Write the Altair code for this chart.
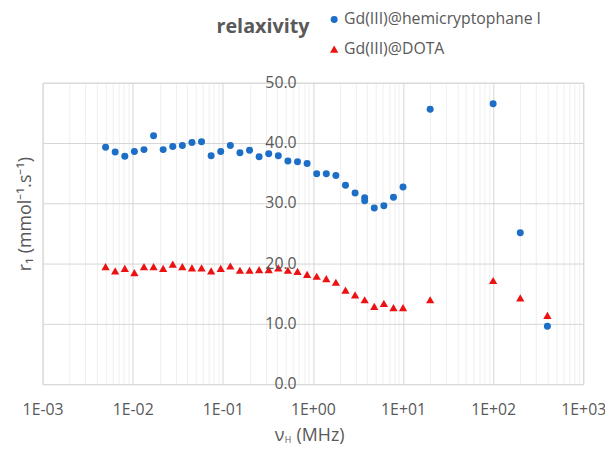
import altair as alt
import pandas as pd

# ---- data ----
freq = [0.005, 0.00639, 0.00817, 0.01044, 0.01334, 0.01704, 0.02178, 0.02783,
        0.03556, 0.04544, 0.05807, 0.07421, 0.09483, 0.1212, 0.1549, 0.1979,
        0.2529, 0.3232, 0.4130, 0.5278, 0.6744, 0.8619, 1.101, 1.407, 1.798,
        2.298, 2.937, 3.753, 4.796, 6.129, 7.832, 10.0, 20.0, 100.0, 200.0, 400.0]
hemi = [39.3, 38.5, 37.8, 38.6, 38.9, 41.2, 38.9, 39.4, 39.6, 40.1, 40.2, 37.9,
        38.6, 39.6, 38.4, 38.8, 37.7, 38.2, 37.9, 37.0, 36.9, 36.6, 34.9, 34.9,
        34.6, 33.0, 31.7, 30.9, 29.2, 29.6, 31.0, 32.7, 45.6, 46.5, 25.1, 9.6]
hemi_extra_freq = [3.753]
hemi_extra = [30.4]
dota = [19.5, 18.8, 19.2, 18.5, 19.5, 19.5, 19.2, 19.9, 19.5, 19.3, 19.3, 18.8,
        19.2, 19.6, 18.9, 18.9, 19.0, 19.0, 19.3, 18.9, 18.7, 18.2, 17.9, 17.5,
        16.9, 15.6, 14.8, 14.0, 12.9, 13.4, 12.7, 12.7, 14.0, 17.2, 14.3, 11.4]

series_names = ["Gd(III)@hemicryptophane I", "Gd(III)@DOTA"]
series_colors = ["#1c6ec6", "#ec1212"]
series_shapes = ["circle", "triangle-up"]

x_tick_values = [0.001, 0.01, 0.1, 1, 10, 100, 1000]
x_tick_labels = ["1E-03", "1E-02", "1E-01", "1E+00", "1E+01", "1E+02", "1E+03"]
y_tick_values = [0, 10, 20, 30, 40, 50]
y_tick_labels = ["0.0", "10.0", "20.0", "30.0", "40.0", "50.0"]

title_text = "relaxivity"
y_title = "r\u2081 (mmol\u207b\u00b9.s\u207b\u00b9)"

# ---- build table ----
rows = []
for f, v in zip(freq + hemi_extra_freq, hemi + hemi_extra):
    rows.append({"f": f, "r": v, "s": series_names[0]})
for f, v in zip(freq, dota):
    rows.append({"f": f, "r": v, "s": series_names[1]})
df = pd.DataFrame(rows)
ytick_df = pd.DataFrame({"r": y_tick_values, "lab": y_tick_labels})

# grid positions: 1..9 x each decade
grid_vals = []
for k in range(-3, 3):
    for m in range(1, 10):
        grid_vals.append(round(m * 10 ** k, 6))
grid_vals.append(1000)

label_expr = ""
for v, lab in zip(x_tick_values, x_tick_labels):
    label_expr += f"abs(datum.value/{v} - 1) < 1e-6 ? '{lab}' : "
label_expr += "''"
is_decade = "abs(log(datum.value)/LN10 - round(log(datum.value)/LN10)) < 1e-6"

FONT = "Open Sans"
GRAY = "#595959"
W, H = 547, 305

x_scale = alt.Scale(type="log", domain=[0.001, 1000], nice=False)
y_scale = alt.Scale(domain=[0, 50], nice=False)

x_enc = alt.X("f:Q", scale=x_scale,
              axis=alt.Axis(values=grid_vals, labelExpr=label_expr, title=None,
                            grid=True,
                            gridColor={"condition": {"test": is_decade, "value": "#d6d6d6"},
                                       "value": "#efefef"},
                            ticks=False, domain=False, labelFont=FONT, labelFontSize=16,
                            labelColor=GRAY, labelPadding=18, labelFlush=False,
                            labelOverlap=False))
y_enc = alt.Y("r:Q", scale=y_scale,
              axis=alt.Axis(values=y_tick_values, labels=False, title=None, grid=True,
                            gridColor="#d6d6d6", ticks=False, domain=False))

points = alt.Chart(df).mark_point(filled=True, opacity=1).encode(
    x=x_enc, y=y_enc,
    color=alt.Color("s:N", scale=alt.Scale(domain=series_names, range=series_colors),
                    legend=alt.Legend(title=None, orient="none", legendX=287, legendY=-72,
                                      labelFont=FONT, labelFontSize=16, labelColor=GRAY,
                                      labelLimit=400, symbolSize=40, rowPadding=14,
                                      labelOffset=2, padding=0)),
    shape=alt.Shape("s:N", scale=alt.Scale(domain=series_names, range=series_shapes)),
    size=alt.Size("s:N", scale=alt.Scale(domain=series_names, range=[50, 70]), legend=None),
)

# y-axis labels sitting at the 1E+00 crossing (Excel style)
ylabels = alt.Chart(ytick_df).mark_text(font=FONT, fontSize=16, color=GRAY,
                                        align="right", baseline="middle").encode(
    y=alt.Y("r:Q", scale=y_scale), x=alt.value(257), text="lab:N")

one = pd.DataFrame({"a": [0]})
chart_title = alt.Chart(one).mark_text(text=title_text, font=FONT, fontSize=20,
                                       fontWeight="bold", color=GRAY, align="center",
                                       baseline="alphabetic").encode(
    x=alt.value(223), y=alt.value(-50))
ytitle = alt.Chart(one).mark_text(text=y_title, font=FONT, fontSize=18, color=GRAY,
                                  align="center", baseline="middle", angle=270).encode(
    x=alt.value(-17), y=alt.value(133))
xt1 = alt.Chart(one).mark_text(text="\u03bd", font=FONT, fontSize=18, color=GRAY,
                               align="left", baseline="alphabetic").encode(
    x=alt.value(235), y=alt.value(363))
xt2 = alt.Chart(one).mark_text(text="H", font=FONT, fontSize=9, color=GRAY,
                               align="left", baseline="alphabetic").encode(
    x=alt.value(245), y=alt.value(365))
xt3 = alt.Chart(one).mark_text(text="(MHz)", font=FONT, fontSize=18, color=GRAY,
                               align="left", baseline="alphabetic").encode(
    x=alt.value(257), y=alt.value(363))

chart = alt.layer(points, ylabels, chart_title, ytitle, xt1, xt2, xt3).properties(
    width=W, height=H,
    autosize=alt.AutoSizeParams(type="none"),
    padding={"left": 35, "top": 73, "right": 22, "bottom": 61},
).configure_view(stroke=None).configure(background="white")

chart.save("out.html", embed_options={"renderer": "svg", "actions": False})
